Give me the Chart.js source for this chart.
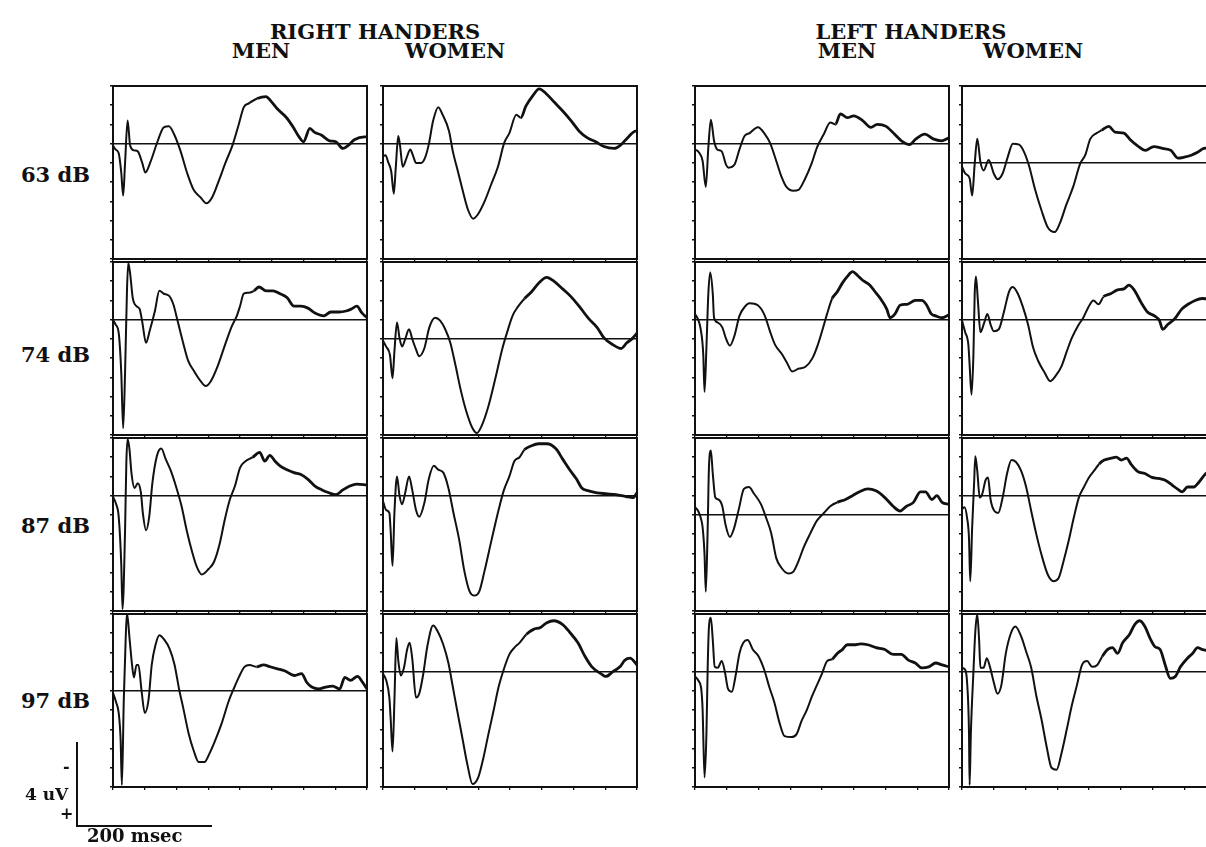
<!DOCTYPE html>
<html>
<head>
<meta charset="utf-8">
<script src="https://cdn.jsdelivr.net/npm/chart.js@4.4.0/dist/chart.umd.min.js"></script>
<style>
  body { margin: 0; background: #fff; width: 1206px; height: 847px; overflow: hidden; position: relative;
         font-family: "DejaVu Serif", "Liberation Serif", serif; font-weight: bold; color: #111; }
  .lbl { position: absolute; white-space: nowrap; font-size: 21px; line-height: 21px; }
  .mid { transform: translateX(-50%); }
  canvas { position: absolute; }
</style>
</head>
<body>
<script>
// labels
const groups = ["RIGHT HANDERS", "LEFT HANDERS"];
const sexes = ["MEN", "WOMEN"];
const levels = ["63 dB", "74 dB", "87 dB", "97 dB"];

// averaged waveforms, [msec, uV] (negative drawn upward)
const rhMen63 = [[0,0.1],[4,0.3],[9,0.5],[13,1.5],[16,2.7],[19,1.0],[23,-1.2],[27,0.1],[33,0.35],[39,0.4],[46,1.0],[51,1.5],[59,0.95],[70,-0.1],[80,-0.85],[88,-0.9],[96,-0.5],[106,0.35],[117,1.55],[127,2.4],[138,2.8],[147,3.1],[156,2.8],[167,1.9],[177,1.0],[188,0.1],[198,-1.0],[206,-1.9],[214,-2.1],[227,-2.35],[241,-2.45],[249,-2.2],[259,-1.8],[272,-1.4],[283,-0.9],[293,-0.35],[300,-0.1],[310,-0.8],[317,-0.6],[328,-0.45],[341,-0.15],[351,-0.1],[362,0.25],[370,0.1],[380,-0.2],[396,-0.35],[400,-0.35]];
const rhWomen63 = [[0,0.65],[4,0.6],[8,0.95],[13,1.45],[17,2.6],[20,1.3],[24,-0.4],[27,0.15],[31,1.2],[37,0.75],[43,0.3],[47,0.6],[52,1.0],[60,1.0],[66,0.75],[72,0.05],[79,-1.2],[87,-1.9],[94,-1.5],[104,-0.65],[110,0.4],[118,1.45],[126,2.5],[134,3.45],[142,3.9],[149,3.7],[160,3.0],[170,2.15],[181,1.2],[191,-0.05],[199,-0.55],[210,-1.5],[217,-1.35],[225,-1.95],[236,-2.5],[246,-2.85],[257,-2.6],[270,-2.15],[283,-1.7],[296,-1.2],[309,-0.65],[322,-0.3],[335,-0.1],[348,0.15],[364,0.25],[375,0.05],[385,-0.3],[398,-0.65],[400,-0.65]];
const lhMen63 = [[0,0.3],[6,0.45],[12,0.9],[17,2.25],[21,0.2],[25,-1.25],[30,-0.15],[35,0.3],[42,0.4],[49,1.1],[53,1.25],[62,1.1],[70,0.3],[78,-0.4],[86,-0.55],[99,-0.85],[110,-0.5],[118,-0.05],[128,0.9],[136,1.7],[144,2.25],[155,2.45],[163,2.4],[173,1.85],[184,1.0],[192,0.2],[203,-0.5],[213,-1.1],[221,-1.0],[229,-1.55],[240,-1.35],[250,-1.45],[264,-1.2],[277,-0.85],[287,-1.0],[301,-0.9],[314,-0.5],[325,-0.15],[338,0.05],[348,-0.25],[362,-0.5],[375,-0.25],[388,-0.15],[400,-0.3]];
const lhWomen63 = [[0,0.2],[5,0.55],[12,0.8],[16,1.7],[20,0.05],[24,-1.25],[29,-0.05],[34,0.4],[42,-0.15],[50,0.55],[56,0.85],[64,0.55],[72,-0.3],[80,-1.0],[90,-0.95],[98,-0.55],[106,0.2],[114,1.25],[125,2.45],[135,3.35],[146,3.6],[154,3.15],[164,2.2],[175,1.25],[186,0.05],[194,-0.4],[202,-1.25],[212,-1.55],[220,-1.7],[231,-1.9],[241,-1.6],[255,-1.55],[265,-1.2],[276,-0.9],[289,-0.65],[302,-0.85],[316,-0.75],[329,-0.65],[340,-0.25],[350,-0.3],[361,-0.4],[371,-0.55],[381,-0.75],[400,-0.8]];

const rhMen74 = [[0,0],[4,0.25],[9,0.7],[13,2.75],[16,5.65],[19,2.75],[22,-1.5],[24,-2.95],[27,-2.4],[31,-1.15],[37,-0.7],[42,-0.55],[46,0.1],[52,1.2],[58,0.55],[66,-0.45],[73,-1.5],[80,-1.35],[88,-1.25],[95,-0.8],[102,0.1],[110,1.15],[118,2.1],[127,2.65],[138,3.2],[146,3.45],[154,3.2],[165,2.4],[176,1.35],[187,0.35],[195,-0.2],[200,-0.7],[206,-1.35],[214,-1.4],[222,-1.5],[230,-1.7],[241,-1.5],[252,-1.5],[263,-1.35],[274,-1.15],[285,-0.7],[296,-0.7],[307,-0.6],[318,-0.35],[332,-0.2],[343,-0.4],[356,-0.4],[367,-0.45],[375,-0.55],[384,-0.7],[392,-0.35],[400,-0.1]];
const rhWomen74 = [[0,0.1],[5,0.4],[11,0.85],[15,2.05],[18,0.65],[22,-0.85],[26,-0.05],[30,0.4],[35,0],[41,-0.5],[46,0],[52,0.55],[57,0.9],[65,0.5],[73,-0.6],[82,-1.1],[90,-0.95],[98,-0.5],[106,0.2],[114,1.35],[122,2.6],[131,3.75],[141,4.65],[148,4.9],[155,4.55],[166,3.5],[177,2.05],[188,0.5],[196,-0.4],[204,-1.2],[212,-1.65],[223,-2.1],[234,-2.45],[245,-2.9],[258,-3.2],[269,-3.0],[283,-2.6],[296,-2.2],[310,-1.65],[324,-1.05],[337,-0.6],[348,-0.05],[362,0.3],[375,0.5],[384,0.2],[392,0],[400,-0.3]];
const lhMen74 = [[0,-0.3],[5,0],[9,0.5],[13,1.8],[15,3.75],[18,1.45],[21,-1.35],[24,-2.45],[28,-1.35],[30,-0.1],[36,0.15],[43,0.4],[49,1.0],[55,1.35],[62,0.85],[70,-0.2],[78,-0.65],[86,-0.85],[99,-0.75],[110,-0.2],[118,0.6],[126,1.3],[137,1.8],[145,2.25],[153,2.7],[163,2.55],[174,2.45],[185,2.0],[193,1.35],[201,0.5],[208,-0.3],[216,-1.1],[224,-1.45],[232,-1.9],[240,-2.25],[248,-2.5],[256,-2.3],[264,-2.05],[275,-1.8],[286,-1.35],[294,-1.0],[302,-0.55],[307,-0.1],[315,-0.3],[323,-0.75],[334,-0.8],[347,-1.0],[357,-1.0],[365,-0.75],[372,-0.3],[379,-0.2],[389,-0.1],[400,-0.25]];
const lhWomen74 = [[0,0.05],[5,0.65],[10,1.3],[12,2.35],[15,3.9],[18,1.8],[20,-1.35],[22,-2.25],[25,-1.0],[29,0.65],[35,0.15],[40,-0.3],[45,0.25],[50,0.6],[58,0.5],[66,-0.4],[74,-1.45],[80,-1.7],[88,-1.35],[96,-0.65],[104,0.25],[112,1.45],[120,2.15],[130,2.75],[139,3.2],[149,2.85],[157,2.4],[165,1.65],[173,0.95],[183,0.3],[191,-0.1],[199,-0.65],[207,-1.0],[215,-0.8],[223,-1.2],[234,-1.35],[245,-1.55],[255,-1.6],[263,-1.8],[271,-1.55],[282,-0.9],[292,-0.4],[303,-0.2],[311,0.05],[316,0.5],[324,0.25],[335,-0.05],[346,-0.55],[356,-0.8],[367,-1.0],[378,-1.1],[400,-1.0]];

const rhMen87 = [[0,0.05],[5,0.45],[9,1.1],[13,3.55],[15,5.9],[19,1.8],[21,-1.7],[23,-2.95],[26,-2.4],[29,-1.2],[34,-0.4],[39,-0.65],[44,-0.15],[47,0.9],[52,1.8],[57,1.1],[62,-0.65],[69,-2.05],[76,-2.45],[83,-1.9],[91,-1.3],[99,-0.5],[108,0.55],[116,1.8],[124,2.85],[132,3.7],[140,4.1],[151,3.8],[159,3.45],[168,2.5],[176,1.25],[184,0.2],[192,-0.5],[200,-1.45],[209,-1.8],[220,-2.0],[231,-2.25],[239,-1.8],[247,-2.1],[255,-1.8],[263,-1.55],[274,-1.35],[285,-1.2],[296,-1.1],[307,-0.85],[318,-0.5],[329,-0.3],[340,-0.15],[351,-0.05],[362,-0.3],[373,-0.5],[384,-0.6],[400,-0.55]];
const rhWomen87 = [[0,0.3],[5,0.75],[10,0.9],[12,1.8],[15,3.65],[18,0.9],[22,-1.0],[26,0],[30,0.45],[35,-0.15],[41,-1.0],[46,-0.3],[52,0.75],[57,1.1],[65,0.4],[72,-0.85],[80,-1.55],[87,-1.35],[95,-1.2],[103,-0.4],[111,0.9],[120,2.3],[128,3.9],[136,4.95],[144,5.2],[152,4.95],[160,3.9],[171,2.3],[182,0.75],[190,-0.25],[199,-1.0],[207,-1.8],[215,-2.0],[223,-2.4],[234,-2.6],[245,-2.7],[258,-2.7],[272,-2.45],[283,-1.9],[294,-1.35],[305,-0.85],[313,-0.4],[324,-0.25],[337,-0.15],[351,-0.1],[367,-0.05],[383,0.05],[394,0.1],[400,-0.15]];
const lhMen87 = [[0,-0.4],[5,-0.2],[9,0.15],[12,0.65],[15,2.05],[17,4.0],[20,0.65],[22,-2.5],[25,-3.35],[28,-2.15],[32,-0.9],[37,-0.8],[43,-0.45],[48,0.5],[55,1.15],[61,0.75],[69,-0.3],[77,-1.35],[85,-1.45],[93,-1.1],[104,-0.55],[112,0.15],[120,0.95],[128,2.25],[136,2.75],[147,3.05],[155,2.95],[163,2.4],[171,1.7],[181,1.0],[192,0.3],[203,-0.1],[213,-0.45],[224,-0.65],[237,-0.8],[248,-1.0],[259,-1.2],[272,-1.35],[285,-1.25],[299,-0.9],[312,-0.45],[323,-0.2],[333,-0.45],[344,-0.65],[355,-1.2],[363,-1.2],[373,-0.8],[381,-1.0],[389,-0.65],[400,-0.55]];
const lhWomen87 = [[0,0.7],[4,0.6],[8,1.15],[11,2.2],[13,4.45],[16,1.65],[19,-0.6],[21,-2.05],[24,-1.3],[28,0.1],[32,-0.1],[37,-0.8],[41,-0.95],[45,0.2],[51,0.8],[57,0.9],[64,0.1],[71,-1.15],[78,-1.85],[85,-1.75],[93,-1.3],[101,-0.45],[109,0.8],[117,2.0],[125,3.05],[135,4.1],[144,4.45],[152,4.3],[160,3.4],[168,2.35],[176,1.15],[184,0.1],[192,-0.45],[200,-0.95],[208,-1.3],[216,-1.65],[224,-1.85],[235,-1.95],[243,-2.0],[251,-1.85],[259,-1.95],[267,-1.6],[277,-1.25],[288,-1.15],[299,-0.95],[309,-0.9],[320,-0.8],[331,-0.55],[339,-0.35],[347,-0.2],[355,-0.45],[365,-0.45],[373,-0.7],[384,-1.15],[400,-1.4]];

const rhMen97 = [[0,0.1],[5,0.6],[9,1.15],[12,2.55],[14,4.9],[17,0.45],[20,-2.75],[22,-4.05],[26,-2.75],[30,-1.35],[33,-0.7],[37,-1.35],[40,-1.35],[45,0],[50,1.15],[56,0.45],[61,-1.35],[67,-2.4],[73,-2.9],[81,-2.65],[89,-2.2],[97,-1.35],[104,-0.1],[111,0.95],[119,2.2],[127,3.1],[135,3.7],[144,3.7],[152,3.25],[160,2.65],[171,1.7],[182,0.55],[190,-0.1],[198,-0.7],[207,-1.25],[215,-1.35],[226,-1.25],[237,-1.35],[248,-1.25],[259,-1.15],[270,-1.05],[286,-0.8],[297,-0.9],[305,-0.45],[313,-0.2],[324,-0.1],[335,-0.2],[346,-0.25],[357,-0.1],[365,-0.7],[374,-0.55],[385,-0.75],[393,-0.45],[400,-0.1]];
const rhWomen97 = [[0,0.1],[5,0.45],[10,1.35],[12,2.4],[15,4.15],[18,1.5],[21,-1.75],[24,-0.6],[28,0.2],[33,-0.2],[38,-1.15],[42,-1.5],[46,-0.7],[52,1.35],[57,1.15],[63,0.2],[70,-1.35],[79,-2.4],[86,-2.1],[95,-1.4],[103,-0.45],[110,0.8],[117,2.05],[125,3.45],[133,4.85],[141,5.85],[150,5.5],[158,4.5],[166,3.25],[174,2.05],[182,0.8],[190,-0.1],[199,-0.9],[207,-1.25],[215,-1.5],[226,-1.95],[237,-2.2],[248,-2.3],[258,-2.55],[269,-2.65],[283,-2.45],[294,-2.05],[307,-1.5],[318,-0.8],[329,-0.25],[343,0.1],[351,0.25],[362,0],[373,-0.25],[381,-0.6],[389,-0.7],[400,-0.35]];
const lhMen97 = [[0,0.25],[5,0.45],[10,0.95],[12,2.0],[15,5.5],[18,3.25],[20,-0.25],[22,-2.35],[25,-2.8],[28,-1.65],[31,-0.25],[36,-0.2],[42,-0.55],[47,0],[52,0.9],[58,1.05],[64,0.2],[70,-0.95],[76,-1.5],[83,-1.65],[91,-1.15],[100,-0.8],[109,-0.1],[117,0.8],[125,1.6],[133,2.65],[141,3.35],[152,3.4],[160,3.25],[168,2.55],[176,2.0],[184,1.3],[192,0.7],[200,0.1],[208,-0.55],[216,-0.65],[224,-0.95],[232,-1.15],[240,-1.4],[251,-1.4],[261,-1.45],[272,-1.4],[285,-1.25],[299,-1.15],[312,-0.9],[325,-0.9],[336,-0.6],[347,-0.45],[357,-0.2],[368,-0.25],[379,-0.45],[389,-0.35],[400,-0.25]];
const lhWomen97 = [[0,-0.2],[5,-0.1],[8,0.55],[11,3.15],[12,5.9],[14,3.15],[18,0],[21,-2.1],[24,-3.0],[27,-1.6],[29,-0.2],[34,-0.2],[39,-0.7],[44,-0.25],[50,0.55],[56,1.15],[62,0.7],[69,-0.95],[77,-2.0],[84,-2.35],[93,-1.85],[101,-1.05],[109,-0.2],[117,1.25],[125,2.45],[133,3.85],[141,5.0],[149,5.1],[157,4.2],[165,3.0],[173,1.75],[181,0.7],[189,-0.35],[197,-0.55],[205,-0.25],[213,-0.35],[221,-0.8],[229,-1.15],[237,-1.25],[245,-0.95],[253,-1.5],[264,-1.95],[272,-2.45],[280,-2.65],[288,-2.35],[296,-1.75],[304,-1.3],[312,-1.15],[320,-0.35],[328,0.35],[336,0.25],[344,-0.25],[355,-0.7],[363,-0.95],[371,-1.25],[379,-1.15],[389,-1.1],[400,-1.1]];

// calibration bar
const barMs = 200;
const barUv = 4;

// rows = levels, columns = RH men, RH women, LH men, LH women
const waves = [
  [rhMen63, rhWomen63, lhMen63, lhWomen63],
  [rhMen74, rhWomen74, lhMen74, lhWomen74],
  [rhMen87, rhWomen87, lhMen87, lhWomen87],
  [rhMen97, rhWomen97, lhMen97, lhWomen97]
];

// layout
const colLeft = [113, 383, 695, 962];
const rowTop = [86, 262, 438, 614];
const panelW = 254, panelH = 173, pad = 8;
const spanUv = 9;
// how many uV sit above the zero line in each panel
const topUv = [[3, 3, 3, 4], [3, 4, 3, 3], [3, 3, 4, 3], [4, 3, 3, 3]];

function addLabel(text, x, y, size, center) {
  const d = document.createElement("div");
  d.className = "lbl" + (center ? " mid" : "");
  d.textContent = text;
  d.style.left = x + "px";
  d.style.top = y + "px";
  if (size) { d.style.fontSize = size + "px"; d.style.lineHeight = size + "px"; }
  document.body.appendChild(d);
}

function addCanvas(x, y, w, h) {
  const c = document.createElement("canvas");
  c.width = w; c.height = h;
  c.style.left = x + "px"; c.style.top = y + "px";
  document.body.appendChild(c);
  return c;
}

const ink = "#111";

function frameAxis(pos, extra) {
  return Object.assign({
    type: "linear",
    position: pos,
    ticks: { display: false },
    grid: { display: false },
    border: { color: ink, width: 2 },
    afterFit: s => { if (s.isHorizontal()) s.height = pad; else s.width = pad; }
  }, extra || {});
}

function drawPanel(points, left, top, up) {
  const c = addCanvas(left - pad, top - pad, panelW + 2 * pad, panelH + 2 * pad);
  new Chart(c, {
    type: "line",
    data: {
      datasets: [{
        data: points.map(p => ({ x: p[0], y: p[1] })),
        borderColor: ink,
        borderWidth: 2,
        pointRadius: 0,
        cubicInterpolationMode: "monotone",
        segment: { borderWidth: ctx => ctx.p0.parsed.x > 215 ? 2.8 : 2 }
      }]
    },
    options: {
      responsive: false,
      animation: false,
      events: [],
      layout: { padding: 0 },
      plugins: { legend: { display: false }, tooltip: { enabled: false } },
      scales: {
        x: frameAxis("bottom", {
          min: 0, max: 400,
          ticks: { display: false, stepSize: 50 },
          grid: { display: true, drawOnChartArea: false, tickLength: 3, color: ink, lineWidth: 1.3 }
        }),
        y: frameAxis("left", {
          reverse: true, min: -up, max: spanUv - up,
          ticks: { display: false, stepSize: 1 },
          grid: {
            display: true, tickLength: 3, tickColor: ink, lineWidth: 1.5,
            color: ctx => (ctx.tick && ctx.tick.value === 0) ? ink : "rgba(0,0,0,0)"
          }
        }),
        x2: frameAxis("top", { min: 0, max: 400 }),
        y2: frameAxis("right", { min: 0, max: 1 })
      }
    }
  });
}

// titles
addLabel(groups[0], 375, 21, 21, true);
addLabel(groups[1], 911, 21, 21, true);
addLabel(sexes[0], 261, 40, 21, true);
addLabel(sexes[1], 455, 40, 21, true);
addLabel(sexes[0], 847, 40, 21, true);
addLabel(sexes[1], 1033, 40, 21, true);

const levelTop = [164, 344, 515, 690];
for (let r = 0; r < levels.length; r++) {
  addLabel(levels[r], 21, levelTop[r], 21, false);
}

// panels
for (let r = 0; r < waves.length; r++) {
  for (let c = 0; c < waves[r].length; c++) {
    drawPanel(waves[r][c], colLeft[c], rowTop[r], topUv[r][c]);
  }
}

// calibration bar: 4 uV by 200 msec, same scale as the panels
const barW = panelW * barMs / 400;
const barH = panelH * barUv / spanUv;
const bar = addCanvas(77 - pad, 827 - barH - pad, barW + 2 * pad, barH + 2 * pad);
new Chart(bar, {
  type: "line",
  data: { datasets: [] },
  options: {
    responsive: false, animation: false, events: [],
    layout: { padding: 0 },
    plugins: { legend: { display: false }, tooltip: { enabled: false } },
    scales: {
      x: frameAxis("bottom", { min: 0, max: barMs }),
      y: frameAxis("left", { min: 0, max: barUv })
    }
  }
});
addLabel("-", 63, 759, 16, false);
addLabel("+", 60, 806, 16, false);
addLabel("4 uV", 25, 786, 17, false);
addLabel("200 msec", 87, 827, 18, false);
</script>
</body>
</html>
